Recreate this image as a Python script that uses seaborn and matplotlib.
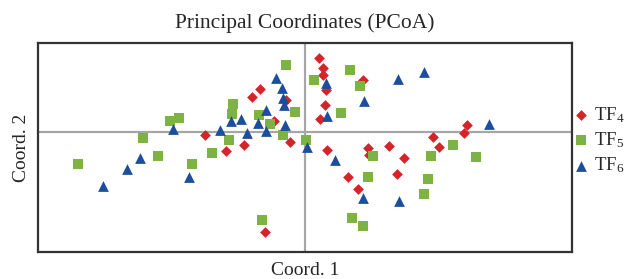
import matplotlib
matplotlib.use("Agg")
import matplotlib.pyplot as plt
import seaborn as sns
import pandas as pd

groups = ["TF$_4$", "TF$_5$", "TF$_6$"]

tf4_x = [-0.201, -0.159, -0.122, -0.106, -0.090, -0.063, -0.039, -0.031, 0.028, 0.035,
         0.035, 0.042, 0.039, 0.029, 0.115, 0.043, 0.126, 0.128, 0.085, 0.105,
         -0.081, 0.323, 0.318, 0.167, 0.197, 0.183, 0.255, 0.268]
tf4_y = [-0.005, -0.038, -0.025, 0.070, 0.087, 0.022, 0.064, -0.019, 0.149, 0.129,
         0.115, 0.084, 0.054, 0.027, 0.105, -0.035, -0.031, -0.046, -0.089, -0.113,
         -0.199, 0.014, -0.001, -0.028, -0.051, -0.083, -0.009, -0.029]

tf5_x = [-0.455, -0.325, -0.294, -0.270, -0.252, -0.227, -0.187, -0.152, -0.144, -0.146,
         -0.093, -0.071, -0.038, -0.021, -0.045, 0.001, 0.018, 0.089, 0.109, 0.072,
         0.135, 0.125, 0.094, 0.115, -0.086, 0.251, 0.295, 0.342, 0.246, 0.237]
tf5_y = [-0.063, -0.011, -0.048, 0.023, 0.029, -0.064, -0.041, -0.015, 0.057, 0.036,
         0.034, 0.017, 0.134, 0.041, -0.005, -0.015, 0.104, 0.125, 0.092, 0.039,
         -0.048, -0.089, -0.171, -0.187, -0.176, -0.047, -0.025, -0.049, -0.093, -0.123]

tf6_x = [-0.404, -0.357, -0.330, -0.265, -0.232, -0.170, -0.149, -0.129, -0.116, -0.094,
         -0.078, -0.079, -0.058, -0.046, -0.045, -0.043, -0.040, 0.003, 0.042, 0.043,
         0.118, 0.060, 0.115, 0.185, 0.237, 0.367, 0.188]
tf6_y = [-0.108, -0.073, -0.051, 0.007, -0.089, 0.004, 0.022, 0.027, -0.001, 0.019,
         0.044, 0.003, 0.109, 0.089, 0.069, 0.055, 0.015, -0.029, 0.099, 0.032,
         0.063, -0.055, -0.131, 0.107, 0.121, 0.016, -0.137]

df = pd.DataFrame({
    "x": tf4_x + tf5_x + tf6_x,
    "y": tf4_y + tf5_y + tf6_y,
    "g": [groups[0]] * len(tf4_x) + [groups[1]] * len(tf5_x) + [groups[2]] * len(tf6_x),
})

sns.set_theme(style="white")
plt.rcParams["font.family"] = ["Liberation Serif", "DejaVu Serif"]
plt.rcParams["mathtext.fontset"] = "custom"
plt.rcParams["mathtext.rm"] = "Liberation Serif"
plt.rcParams["mathtext.it"] = "Liberation Serif:italic"

palette = {groups[0]: "#d5232a", groups[1]: "#7cb342", groups[2]: "#1c4e9b"}
markers = {groups[0]: "D", groups[1]: "s", groups[2]: "^"}
sizes = {groups[0]: 30, groups[1]: 55, groups[2]: 60}

fig = plt.figure(figsize=(6.3, 2.79), dpi=100)
ax = fig.add_axes([38 / 630, 1 - 252 / 279, (572 - 38) / 630, (252 - 43) / 279])

ax.axhline(0, color="#a6a6a6", lw=1.6, zorder=1)
ax.axvline(0, color="#a6a6a6", lw=1.6, zorder=1)

for g in groups:
    sub = df[df.g == g]
    sns.scatterplot(data=sub, x="x", y="y", color=palette[g], marker=markers[g],
                    s=sizes[g], linewidth=0, ax=ax, label=g, zorder=3)

ax.set_xlim(-0.534, 0.534)
ax.set_ylim(-0.24, 0.178)
ax.set_xticks([])
ax.set_yticks([])
for sp in ax.spines.values():
    sp.set_color("#333333")
    sp.set_linewidth(1.6)

ax.set_title("Principal Coordinates (PCoA)", fontsize=15.5, pad=11)
ax.set_xlabel("Coord. 1", fontsize=14, labelpad=7)
ax.set_ylabel("Coord. 2", fontsize=14, labelpad=6)

leg = ax.legend(loc="center left", bbox_to_anchor=(1.0, 0.536), frameon=False,
                fontsize=13.5, handletextpad=0.2, labelspacing=0.3,
                handlelength=1.0, borderaxespad=0, borderpad=0)

fig.savefig("out.png", dpi=100)
